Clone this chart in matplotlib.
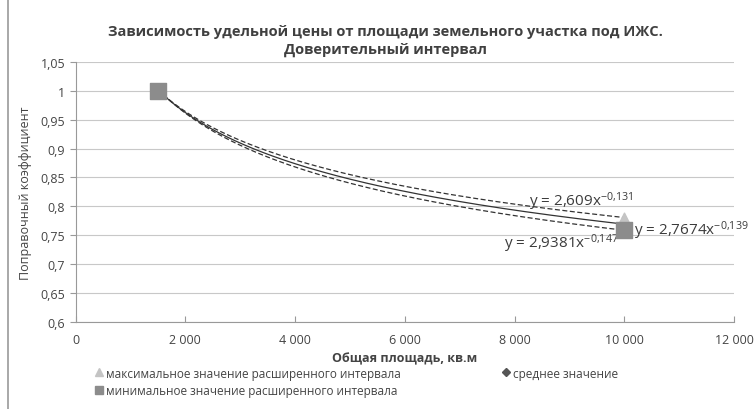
import numpy as np
import matplotlib
matplotlib.use("Agg")
import matplotlib.pyplot as plt
from matplotlib.ticker import FuncFormatter
from matplotlib.lines import Line2D

plt.rcParams['font.family'] = ['Open Sans', 'DejaVu Sans']
plt.rcParams['mathtext.fontset'] = 'custom'
plt.rcParams['mathtext.rm'] = 'Open Sans'
plt.rcParams['mathtext.it'] = 'Open Sans'

# Данные
area = [1500, 10000]
max_vals = [1.0, 0.78]
mean_vals = [1.0, 0.769]
min_vals = [1.0, 0.759]

# Коэффициенты степенных трендов y = a * x^b
trend_a = [2.609, 2.7674, 2.9381]
trend_b = [-0.131, -0.139, -0.147]
trend_labels = ["2,609", "2,7674", "2,9381"]
trend_pow = ["-0,131", "-0,139", "-0,147"]

x_ticks = [0, 2000, 4000, 6000, 8000, 10000, 12000]
y_ticks = [0.6, 0.65, 0.7, 0.75, 0.8, 0.85, 0.9, 0.95, 1.0, 1.05]

fig = plt.figure(figsize=(7.56, 4.10), dpi=100)
ax = fig.add_axes([0.1, 0.212, 0.871, 0.635])

grid_c = '#c8c8c8'
for yv in y_ticks:
    ax.axhline(yv, color=grid_c, lw=0.8, zorder=0)

# линии тренда
xs = np.linspace(area[0], area[1], 200)
styles = ['--', '-', '--']
for a, b, ls in zip(trend_a, trend_b, styles):
    ax.plot(xs, a * xs ** b, ls=ls, color='#333333', lw=0.9, dashes=(4, 2) if ls == '--' else (None, None), zorder=2)

# точки
ax.scatter(area, mean_vals, marker='D', s=18, color='#555555', zorder=3)
ax.scatter(area, max_vals, marker='^', s=60, color='#c4c4c4', zorder=4)
ax.scatter(area, min_vals, marker='s', s=120, color='#8c8c8c', zorder=5)

# подписи уравнений
eq_pos = [(8270, 0.809), (10170, 0.760), (7810, 0.737)]
for (ex, ey), lab, pw in zip(eq_pos, trend_labels, trend_pow):
    ax.text(ex, ey, "y = " + lab + "x$^{" + pw.replace(",", "{,}") + "}$",
            fontsize=11, color='#3c3c3c', va='center', ha='left', clip_on=False)

ax.set_xlim(0, 12000)
ax.set_ylim(0.6, 1.05)
ax.set_xticks(x_ticks)
ax.set_yticks(y_ticks)
ax.xaxis.set_major_formatter(FuncFormatter(lambda v, p: f"{int(v):,}".replace(",", " ")))
ax.yaxis.set_major_formatter(FuncFormatter(lambda v, p: f"{v:.2f}".rstrip('0').rstrip('.').replace('.', ',')))
ax.tick_params(axis='x', direction='in', length=4, colors='#999999', labelcolor='#444444', labelsize=9, pad=8)
ax.tick_params(axis='y', direction='out', length=4, colors='#999999', labelcolor='#444444', labelsize=9)
for s in ['top', 'right']:
    ax.spines[s].set_visible(False)
for s in ['left', 'bottom']:
    ax.spines[s].set_color('#999999')
    ax.spines[s].set_linewidth(0.8)

ax.set_xlabel("Общая площадь, кв.м", fontsize=9, fontweight='bold', color='#444444', labelpad=4)
ax.set_ylabel("Поправочный коэффициент", fontsize=9, color='#444444', labelpad=6)

fig.text(0.51, 0.9, "Зависимость удельной цены от площади земельного участка под ИЖС.\nДоверительный интервал",
         ha='center', va='center', fontsize=10.5, fontweight='bold', color='#404040', linespacing=1.35)

handles = [
    Line2D([], [], ls='', marker='^', color='#c4c4c4', markersize=6),
    Line2D([], [], ls='', marker='s', color='#8c8c8c', markersize=6),
    Line2D([], [], ls='', marker='D', color='#555555', markersize=4),
]
labels = ["максимальное значение расширенного интервала",
          "минимальное значение расширенного интервала",
          "среднее значение"]
fig.legend(handles, labels, loc='upper left', bbox_to_anchor=(0.118, 0.115), ncol=2, frameon=False,
           fontsize=8.5, handletextpad=0.2, columnspacing=8.5, labelspacing=0.4, handlelength=0.8,
           labelcolor='#444444', borderaxespad=0)

fig.add_artist(Line2D([0.011, 0.011], [0, 1], color='#999999', lw=1.2))

fig.savefig("out.png", dpi=100)
